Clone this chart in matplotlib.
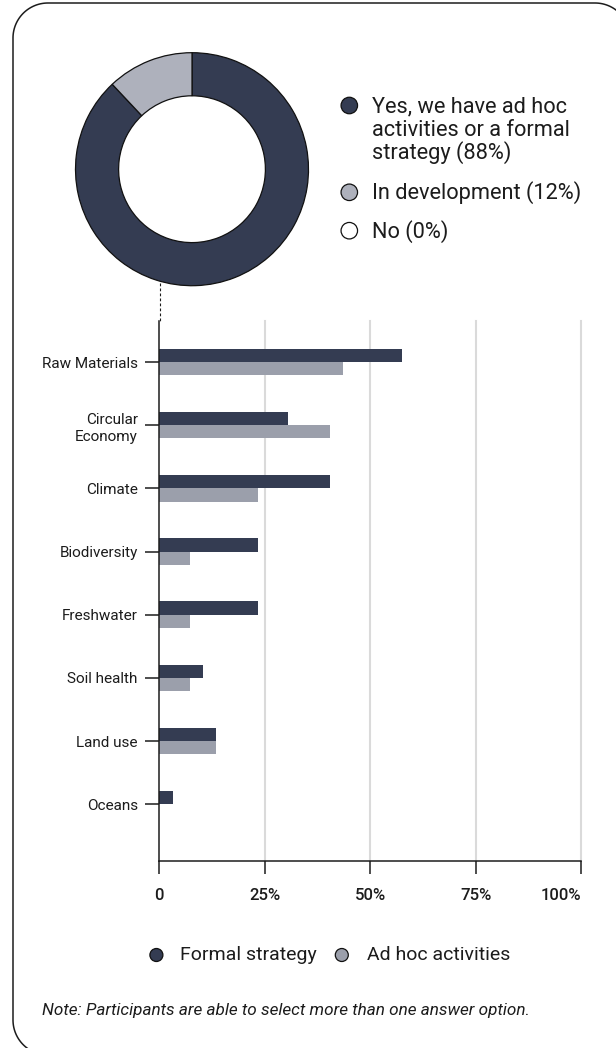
import numpy as np
import matplotlib
matplotlib.use("Agg")
import matplotlib.pyplot as plt
from matplotlib.patches import Ellipse

# ---- data -----------------------------------------------------------------
pie_labels = ["Yes, we have ad hoc\nactivities or a formal\nstrategy", "In development", "No"]
pie_values = [88, 12, 0]

categories = ["Raw Materials", "Circular\nEconomy", "Climate", "Biodiversity",
              "Freshwater", "Soil health", "Land use", "Oceans"]
formal = [57.5, 30.4, 40.4, 23.3, 23.3, 10.3, 13.4, 3.2]
adhoc = [43.5, 40.4, 23.3, 7.2, 7.2, 7.2, 13.4, 0.0]
series_names = ["Formal strategy", "Ad hoc activities"]

xtick_values = [0, 25, 50, 75, 100]
xtick_labels = ["0", "25%", "50%", "75%", "100%"]
note = "Note: Participants are able to select more than one answer option."

# ---- style ----------------------------------------------------------------
W, H, DPI = 616, 1048, 100
DARK = "#343c52"
BAR_GRAY = "#9b9fab"
PIE_GRAY = "#aeb1bc"
INK = "#1c1c1c"
pie_colors = [DARK, PIE_GRAY, "white"]
bar_colors = [DARK, BAR_GRAY]

plt.rcParams["font.family"] = ["Roboto", "DejaVu Sans"]

fig = plt.figure(figsize=(W / DPI, H / DPI), dpi=DPI)


def rect(x0, y0, x1, y1):
    """Pixel box measured from the top-left corner -> figure fraction rect."""
    return [x0 / W, 1 - y1 / H, (x1 - x0) / W, (y1 - y0) / H]


# full-figure overlay axes in pixel units (origin top-left) for the card,
# the leader line and the legend markers
ov = fig.add_axes([0, 0, 1, 1], zorder=5)
ov.set_xlim(0, W)
ov.set_ylim(H, 0)
ov.axis("off")
ov.patch.set_visible(False)


def corner(cx, cy, r, t0, t1, n=40):
    t = np.linspace(t0, t1, n)
    return cx + r * np.cos(t), cy + r * np.sin(t)


# rounded card outline (extends past the right and bottom edges)
R, L, T, RGT, BOT = 35, 13, 3, 630, 1055
xs, ys = [], []
for seg in (corner(RGT - R, T + R, R, 2 * np.pi, 1.5 * np.pi),
            corner(L + R, T + R, R, 1.5 * np.pi, np.pi),
            corner(L + R, BOT - R, R, np.pi, 0.5 * np.pi)):
    xs.extend(seg[0]); ys.extend(seg[1])
xs.append(RGT); ys.append(BOT)
ov.plot(xs, ys, color=INK, lw=1.1, clip_on=False, solid_joinstyle="round")

# ---- donut ----------------------------------------------------------------
ax_pie = fig.add_axes(rect(75.5, 52.7, 308.5, 285.7))
shown = [(v, c) for v, c in zip(pie_values, pie_colors) if v > 0]
wedges, _ = ax_pie.pie([v for v, _ in shown], colors=[c for _, c in shown],
                       startangle=90, counterclock=False, radius=1,
                       wedgeprops=dict(width=0.37, edgecolor="#111111", linewidth=0.9))
for w in wedges:
    w.set_clip_on(False)
ax_pie.set_aspect("auto")
ax_pie.set_xlim(-1, 1)
ax_pie.set_ylim(-1, 1)
ax_pie.axis("off")

# dashed leader from the donut down to the bar axis
ov.plot([159.5, 159.5], [283, 321], color=INK, lw=0.8, ls=(0, (2.5, 2)),
        clip_on=False)

# donut legend
legend_rows = [105.5, 192.3, 230.7]
for (label, val, col), yc in zip(zip(pie_labels, pie_values, pie_colors), legend_rows):
    ov.add_patch(Ellipse((349.3, yc), 16.5, 16.5, fc=col, ec="#111111",
                         lw=0.9, clip_on=False))
    lines = f"{label} ({val}%)".split("\n")
    for k, line in enumerate(lines):
        ov.text(371.7, yc + 7 + 23.2 * k, line, fontsize=15.7,
                color=INK, va="baseline", ha="left")

# ---- bars -----------------------------------------------------------------
ax = fig.add_axes(rect(159.3, 320.7, 581.3, 861))
ax.patch.set_visible(False)
y = np.arange(len(categories))
h = 0.21
ax.barh(y - h / 2, formal, height=h, color=bar_colors[0], zorder=2)
ax.barh(y + h / 2, adhoc, height=h, color=bar_colors[1], zorder=2)
ax.set_xlim(0, 100)
ax.set_ylim(len(categories) - 1 + 0.897, -0.654)

for v in xtick_values[1:]:
    ax.axvline(v, color="#dadada", lw=1.5, zorder=0, clip_on=False)

for side in ("top", "right"):
    ax.spines[side].set_visible(False)
for side in ("left", "bottom"):
    ax.spines[side].set_color(INK)
    ax.spines[side].set_linewidth(1.1)
    ax.spines[side].set_zorder(3)

ax.set_yticks(y, categories)
ax.tick_params(axis="y", length=10, width=1.1, pad=5.5, labelsize=11,
               labelcolor=INK, color=INK)
for lbl in ax.get_yticklabels():
    lbl.set_linespacing(1.3)

ax.set_xticks(xtick_values, xtick_labels)
ax.tick_params(axis="x", length=9.4, width=1.1, pad=10, labelsize=12,
               labelcolor=INK, color=INK)
for lbl in ax.get_xticklabels():
    lbl.set_fontweight("medium")
ax.get_xticklabels()[-1].set_horizontalalignment("right")

# series legend
for name, col, mx, tx in zip(series_names, bar_colors, [156.4, 341.8], [179.6, 366.6]):
    ov.add_patch(Ellipse((mx, 955), 13, 13, fc=col, ec="#111111",
                         lw=0.9, clip_on=False))
    ov.text(tx, 955, name, fontsize=14, color=INK, va="center", ha="left")

ov.text(42.4, 1011, note, fontsize=12.3, style="italic",
        color=INK, va="center", ha="left")

fig.savefig("out.png", dpi=DPI)
